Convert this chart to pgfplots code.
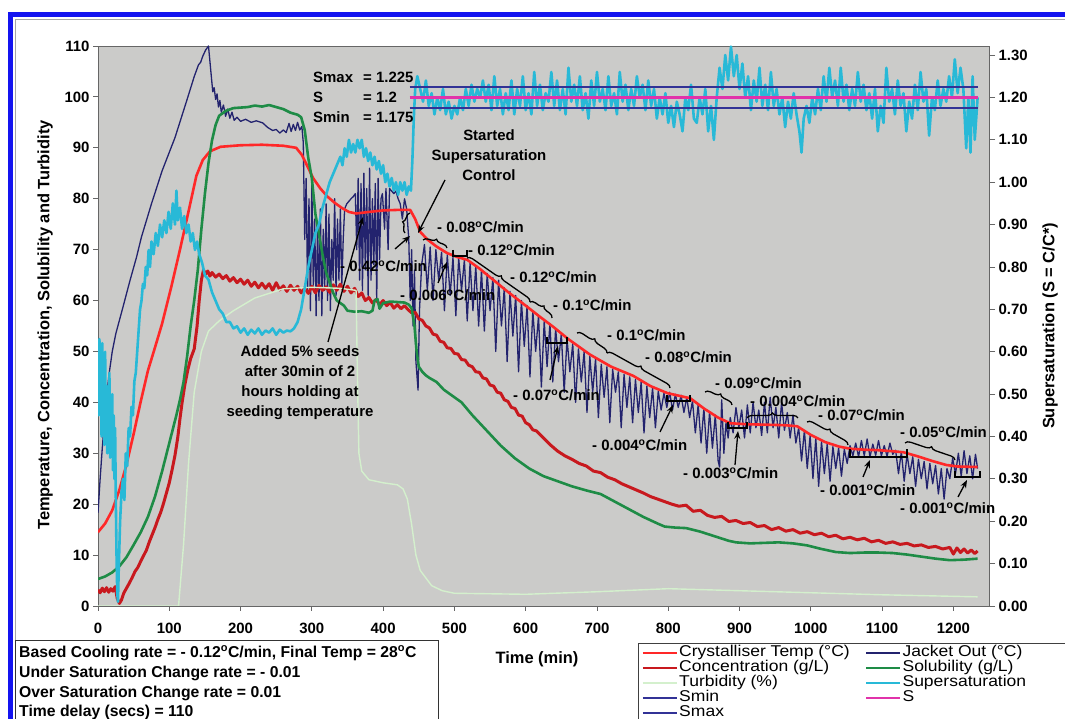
\documentclass[border=0pt]{standalone}
\usepackage{fontspec}
\setmainfont{Liberation Sans}
\newfontfamily\legfont[FakeStretch=1.12]{Liberation Sans}
\usepackage{pgfplots}
\pgfplotsset{compat=1.18}
\usetikzlibrary{decorations.pathreplacing,arrows.meta}
\definecolor{plotbg}{RGB}{203,203,201}
\definecolor{tempred}{RGB}{255,40,40}
\definecolor{concred}{RGB}{200,25,30}
\definecolor{solgreen}{RGB}{30,140,70}
\definecolor{turbgreen}{RGB}{212,240,205}
\definecolor{cyanS}{RGB}{40,185,215}
\definecolor{jacket}{RGB}{35,35,110}
\definecolor{sminblue}{RGB}{50,50,150}
\definecolor{smag}{RGB}{225,50,170}
\definecolor{frameblue}{RGB}{20,20,240}
\begin{document}
\begin{tikzpicture}[x=1bp,y=1bp]
\useasboundingbox (0,0) rectangle (1065,719);
\fill[white] (0,0) rectangle (1065,719);
\fill[frameblue] (8,702) rectangle (1065,707);
\fill[frameblue] (8,0) rectangle (13,707);
\draw[gray!70,line width=0.8bp] (15,0) -- (15,700) -- (1065,700);

\begin{axis}[
  at={(98bp,113bp)}, anchor=south west,
  scale only axis, width=891bp, height=560bp,
  xmin=0, xmax=1250, ymin=0, ymax=110,
  xtick={0,100,...,1200}, ytick={0,10,...,110},
  tick pos=left, tick align=outside,
  major tick length=5bp,
  axis background/.style={fill=plotbg},
  axis line style={gray!80!black, line width=0.8bp},
  tick style={gray!80!black, line width=0.8bp},
  /pgf/number format/assume math mode=true,
  /pgf/number format/set thousands separator={},
  ticklabel style={font=\fontsize{15}{16}\selectfont\bfseries},
  xticklabel style={yshift=-9bp},
  every axis plot/.append style={line join=round},
]
% Jacket Out
\addplot[jacket, line width=1.3bp] coordinates {
(0,18.3)(3,25)(6,31)(10,38)(15,45)(20,50)(25,53.5)(35,58.7)(45,64)(54,68.5)(61,72.5)(75,79)(90,85.5)(108,92)(125,99.5)(135,104)(141,106.3)(144,106.8)(147,108)(151,109.2)(155,110)(158,105.5)(161,101)(163,101.8)(165,99.5)(167,100.6)(169,98)(171,99.3)(173,97)(176,98.4)(179,96.2)(182,97.6)(185,95.8)(188,97)(191,95.4)(195,96)(200,95.2)(207,95.6)(215,95)(222,95.3)(231,94.9)(238,94)(245,93.4)(250,93.6)(255,92.9)(260,93.5)(264,93)(268,94.8)(271,93.2)(274,94.6)(277,93.4)(280,95)(283,93.5)(286,94.2)
(288,91)(290,72)(292,84)(294,62)(296,80)(298,58)(300,83)(302,63)(304,76)(306,57)(308,75)(310,60)(312,78)(314,57)(316,74)(318,62)(320,79)(322,60)(324,77)(326,58)(328,72)(330,64)(332,80)(334,61)(336,76)(338,64)(340,78)(342,63)(344,72)(346,78)(349,79)(352,79.5)(355,80)(358,80.4)(361,81)(363,70)(365,84)(367,64)(369,83)(371,62)(373,85)(375,66)(377,82)(379,61)(381,86)(383,64)(385,80)(387,67)(389,83)(391,60)(393,84)(395,68)(397,80)(399,81)(402,74)(404,82)(407,70)(409,82)(412,81.5)(415,81)(418,81.5)(421,80)(424,79)(427,76)(430,80)(433,78)(436,72)(438,60)(440,70)(442,55)(444,66)(446,48)(449,42.4)(451,58)
(454,67)(458,71)(462,62)(466,70.5)(470,60)(474,70)(478,64)(482,69.5)(486,58)(490,69)(494,61)(498,68.5)(502,57)(506,68.3)(510,62)(514,68)(518,56)(522,67.5)(526,58)(530,66.8)(534,55)(538,66)(542,54)(546,65.3)(550,58)(554,64.5)(558,50)(562,64)(566,55)(570,62.5)(574,48)(578,61.8)(582,53)(586,61)(590,46)(594,60)(598,51)(602,59)(606,45)(610,58)(614,50)(618,57)(622,43)(626,56)(630,47)(634,55.5)(638,44)(642,54.5)(646,48)(650,53.5)(654,42)(658,52.5)(662,46)(666,51.5)(670,40)(674,50.5)(678,44)(682,50)(686,38)(690,49)(694,42)(698,48.5)(702,37)(706,47.5)(710,41)(714,47)(718,36)(722,46.5)(726,42)(730,46)(734,35)(738,45.5)(742,39)(746,45)(750,36)(754,44.5)(758,38)(762,44)(766,34)(770,43.2)(774,37)(778,42.8)(782,35)(786,42.2)(790,38.5)(794,41.8)(798,39)(802,42)(806,38.5)(810,41.6)(814,39)(818,41.4)(822,38)(826,41)(830,37)(834,40.3)(838,34)(842,39.6)(846,32)(850,38.8)(854,30)(858,38.2)(862,31)(866,37.5)(870,28.5)(872,27.3)(875,40.5)(878,30)(881,36)(884,33)(887,37)(891,34)(895,39)(899,35)(903,38.5)(907,33)(911,39.5)(915,34)(919,40)(923,35)(927,38.5)(931,33.5)(935,40)(939,34)(943,41)(947,35)(951,39)(955,33)(959,40)(963,34.5)(967,38)(971,33)(975,37.5)(979,32)(983,35)(987,28.5)(991,34.5)(995,27)(999,33.5)(1003,25)(1007,33)(1011,23.5)(1015,32.3)(1019,26)(1023,31.8)(1027,24.5)(1031,31.3)(1035,27)(1039,31)(1043,25.5)(1047,30.8)(1051,28)(1055,31.5)(1059,29.5)(1063,32)(1067,29.3)(1071,32.5)(1075,29.5)(1079,32.8)(1083,29.3)(1087,31.8)(1091,29.6)(1095,32.5)(1099,29.5)(1103,31.5)(1107,29.4)(1111,32)(1115,29.8)(1119,30.6)(1123,26)(1127,30.3)(1131,24.5)(1135,29.8)(1139,26)(1143,29.3)(1147,23.5)(1151,28.8)(1155,25)(1159,28.4)(1163,23)(1167,28)(1171,24)(1175,27.6)(1179,22)(1183,27)(1187,21)(1191,27)(1195,25)(1199,29)(1203,26)(1207,30)(1211,25.5)(1215,30.5)(1219,26)(1223,29.5)(1227,25)(1231,29.8)(1234,27)
};
% Crystalliser Temp
\addplot[tempred, line width=2.6bp] coordinates {
(0,14.5)(10,16.2)(20,18.8)(30,22.8)(40,27.8)(50,33.8)(60,40.2)(70,46.2)(80,50.8)(90,55.5)(103,62.8)(115,70)(127,77.5)(138,84.5)(147,87.6)(157,89.3)(172,90.2)(200,90.5)(230,90.6)(260,90.4)(278,90)(286,88.6)(293,86.6)(302,84)(312,82)(322,80.4)(332,79.2)(342,78.2)(352,77.4)(362,77.1)(380,77.4)(400,77.7)(420,77.8)(438,77.8)(445,76)(452,73.5)(462,72)(475,70.6)(490,69.3)(505,68.5)(518,68)(535,66.3)(555,64)(575,61.7)(600,59)(620,56.8)(639,54.8)(660,52.4)(690,49.4)(720,47)(751,45.2)(775,43.2)(799,41.8)(815,41.3)(831,40.8)(850,38.8)(870,37)(887,35.9)(910,35.7)(940,35.6)(965,35.5)(981,35.3)(1000,33.6)(1020,32.2)(1040,31.3)(1055,30.9)(1075,30.7)(1095,30.6)(1115,30.4)(1130,30.2)(1150,29.4)(1170,28.5)(1190,27.7)(1206,27.4)(1234,27.3)
};
% Concentration
\addplot[concred, line width=3bp] coordinates {
(0,3.2)(3,2.6)(6,3.5)(9,2.8)(12,3.6)(15,2.7)(18,3.4)(21,2.9)(24,3.8)(27,1.5)(30,0.5)(33,1.2)(36,2.5)(40,3.5)(44,4.5)(48,5.6)(52,6.8)(56,7.6)(60,8.8)(64,9.9)(68,11)(72,12.6)(76,14)(80,15.4)(84,17)(88,18.4)(92,20.2)(96,22.2)(100,24.2)(104,26.8)(108,29.6)(112,33.2)(115,36.8)(118,40)(122,43.6)(126,46.4)(130,48.6)(135,50.5)(139,55)(142,60)(145,64)(148,66)(151,65.2)(154,65.8)(157,64.8)(160,65.5)(165,64.6)(170,65.2)(175,64.3)(180,64.9)(185,63.8)(190,64.5)(195,63.5)(200,64.2)(205,63.2)(210,64)(215,62.8)(220,63.6)(225,62.5)(230,63.4)(235,62.4)(240,63.3)(245,62)(250,63.5)(255,62.1)(260,62.9)(265,61.8)(270,63)(275,62)(280,62.8)(285,61.5)(290,62.5)(295,61.4)(300,62.8)(305,61.5)(310,63)(315,62)(320,62.7)(325,61.6)(330,63.1)(335,62)(340,63.2)(345,61.8)(350,62.8)(355,61.5)(360,62.4)(365,60.8)(370,61.5)(375,60)(380,60.6)(385,59.5)(390,60.2)(395,59.2)(400,60)(405,59)(410,59.6)(415,58.5)(420,59.2)(425,58.4)(430,59)(435,58.2)(440,57.6)(445,57.7)(450,56.4)(455,56.1)(460,55)(465,54.6)(470,53.4)(475,53.2)(480,52)(485,51.8)(490,50.7)(495,50.6)(500,49.6)(505,49.5)(510,48.4)(515,48.3)(520,47.3)(525,47)(530,46)(535,45.9)(540,44.8)(545,44.6)(550,43.4)(555,43.2)(560,42)(565,41.8)(570,40.5)(575,40.2)(580,39)(585,38.8)(590,37.5)(595,37.3)(600,36)(605,35.6)(610,34.6)(615,34.4)(625,33)(635,31.6)(645,30.4)(655,29.5)(665,28.8)(675,28)(685,27.5)(695,26.5)(705,26.2)(715,25.3)(725,24.8)(735,24)(745,23.4)(755,22.8)(765,22.2)(775,21.5)(785,21)(795,20.5)(805,20)(815,19.6)(825,19.8)(835,18.6)(845,18.8)(855,17.8)(865,17.4)(875,17.6)(885,16.6)(895,16.8)(905,16.2)(915,16.4)(925,15.6)(935,15.8)(945,15)(955,15.4)(965,14.7)(975,15)(985,14.3)(995,14.6)(1005,14)(1015,14.3)(1025,13.6)(1035,13.9)(1045,13.2)(1055,13.5)(1065,13)(1075,13.3)(1085,12.6)(1095,12.9)(1105,12.3)(1115,12.6)(1125,12.1)(1135,12.3)(1145,11.8)(1155,12)(1165,11.5)(1175,11.7)(1185,11.2)(1195,11.5)(1200,10.2)(1205,11.4)(1210,10.5)(1215,11.2)(1220,10.4)(1225,11)(1230,10.3)(1234,10.8)
};
% Solubility
\addplot[solgreen, line width=2.6bp] coordinates {
(0,5.3)(10,5.8)(20,6.6)(30,7.8)(40,9.6)(50,12)(60,14.5)(70,17.5)(80,21.5)(90,26.5)(100,32)(110,37.5)(115,40.5)(120,44)(125,49)(130,55)(135,60)(140,66)(145,74)(150,81)(155,87)(160,91.5)(165,94.5)(170,96.3)(180,97.3)(190,97.8)(200,97.9)(210,98)(220,98.3)(230,98.1)(240,98.4)(250,98)(260,97.6)(270,96.9)(280,96.5)(285,96)(290,93.5)(295,88)(300,84)(305,77)(310,73)(315,69)(320,65.5)(325,63.5)(330,61.5)(335,60)(340,59.5)(345,59)(350,58)(360,57.8)(370,57.9)(380,57.6)(385,58)(388,60)(392,60.3)(395,58.4)(400,59.5)(410,59.8)(420,59.7)(430,59.6)(436,59.2)(440,58.5)(444,55)(447,50)(450,47)(455,46)(460,45.3)(465,44.8)(475,44)(485,42.5)(495,41.5)(510,40)(525,37.5)(545,34.5)(565,31.5)(585,29)(605,27)(625,25.5)(645,24.5)(665,23.5)(685,22.7)(705,22)(725,20.5)(745,19)(765,17.5)(785,16.2)(795,15.6)(810,15.4)(825,15.3)(845,14.6)(865,13.7)(885,12.8)(895,12.5)(915,12.3)(935,12.4)(955,12.5)(975,12.3)(995,11.9)(1015,11.2)(1035,10.6)(1055,10.4)(1075,10.5)(1095,10.5)(1115,10.4)(1135,10.1)(1155,9.7)(1175,9.3)(1195,9.0)(1215,9.1)(1234,9.3)
};
% Turbidity
\addplot[turbgreen, line width=1.4bp] coordinates {
(0,0)(113,0)(120,12)(127,28)(135,42)(145,50)(155,54)(170,56)(190,58)(220,60.5)(260,62.3)(300,62.6)(340,62.4)(362,62)(364,45)(366,30)(370,26.5)(380,24.8)(400,24.2)(420,23.8)(428,23)(434,21)(440,16)(446,10)(452,7)(460,5.5)(468,4)(483,3)(500,2.5)(600,2.3)(700,2.8)(800,3.4)(900,3)(1000,2.6)(1100,2.2)(1234,1.8)
};
\end{axis}

\begin{axis}[
  at={(98bp,113bp)}, anchor=south west,
  scale only axis, width=891bp, height=560bp,
  xmin=0, xmax=1250, ymin=0, ymax=1.3214,
  axis y line*=right, axis x line=none,
  ytick={0,0.1,...,1.31},
  tick align=outside, major tick length=6bp,
  axis line style={gray!80!black, line width=0.8bp},
  tick style={gray!80!black, line width=0.8bp},
  /pgf/number format/assume math mode=true,
  yticklabel style={font=\fontsize{15}{16}\selectfont\bfseries,
    /pgf/number format/.cd, fixed, fixed zerofill, precision=2},
  every axis plot/.append style={line join=round},
  legend columns=2,
  legend cell align=left,
  legend style={at={(axis description cs:0.6061,-0.0661)}, anchor=north west,
    draw=black!75, fill=white, line width=0.8bp,
    font=\legfont\fontsize{15.7}{15.7}\selectfont,
    inner xsep=3bp, inner ysep=2bp, row sep=0bp,
    nodes={inner sep=1bp, text height=10.5bp, text depth=2.5bp},
    /tikz/every even column/.append style={column sep=14bp}},
  legend image code/.code={\draw[#1] (0bp,0bp) -- (34bp,0bp);},
]
\addplot[cyanS, line width=2.6bp, forget plot] coordinates {
(0,0.6)(1,0.45)(2,0.63)(3,0.5)(4,0.58)(5,0.4)(6,0.62)(7,0.45)(8,0.55)(9,0.38)(10,0.6)(11,0.42)(12,0.52)(13,0.36)(14,0.5)(15,0.4)(16,0.55)(17,0.35)(18,0.48)(19,0.38)(20,0.5)(21,0.32)(22,0.45)(23,0.3)(24,0.42)(25,0.25)(26,0.12)(27,0.03)(28,0.01)(29,0.08)(31,0.2)(33,0.27)(35,0.3)(37,0.25)(39,0.36)(41,0.33)(43,0.42)(45,0.4)(47,0.47)(49,0.45)(51,0.53)(53,0.55)(55,0.6)(57,0.65)(59,0.7)(61,0.72)(63,0.76)(65,0.75)(67,0.8)(69,0.78)(71,0.84)(73,0.8)(75,0.86)(78,0.83)(81,0.88)(84,0.85)(87,0.9)(90,0.87)(93,0.91)(96,0.88)(99,0.93)(102,0.89)(105,0.95)(108,0.9)(110,0.98)(112,0.91)(115,0.94)(118,0.89)(121,0.92)(124,0.88)(127,0.9)(130,0.86)(133,0.88)(136,0.84)(139,0.86)(142,0.83)(146,0.81)(150,0.78)(155,0.77)(160,0.74)(165,0.72)(170,0.7)(175,0.69)(180,0.67)(185,0.67)(190,0.655)(195,0.66)(200,0.645)(205,0.655)(210,0.64)(215,0.652)(220,0.643)(225,0.655)(230,0.64)(235,0.65)(240,0.645)(245,0.655)(250,0.64)(255,0.652)(260,0.645)(265,0.65)(270,0.648)(275,0.655)(280,0.67)(285,0.7)(290,0.75)(295,0.8)(300,0.84)(305,0.88)(310,0.9)(315,0.94)(320,0.97)(325,1.0)(330,1.02)(335,1.04)(340,1.06)(343,1.04)(346,1.08)(349,1.06)(352,1.1)(355,1.07)(358,1.09)(361,1.07)(364,1.1)(367,1.08)(370,1.1)(373,1.06)(376,1.08)(379,1.05)(382,1.07)(385,1.04)(388,1.06)(391,1.03)(394,1.05)(397,1.02)(400,1.04)(403,1.0)(406,1.02)(409,0.99)(412,1.01)(415,0.98)(418,1.0)(421,0.97)(424,1.0)(427,0.98)(430,1.0)(433,0.97)(436,0.99)(439,0.98)(441,1.05)(443,1.15)(445,1.22)(448,1.25)
(452,1.22)(456,1.19)(460,1.24)(464,1.18)(468,1.21)(472,1.16)(476,1.2)(480,1.17)(484,1.22)(488,1.16)(492,1.19)(496,1.15)(500,1.18)(504,1.16)(508,1.2)(512,1.17)(516,1.22)(520,1.18)(524,1.23)(528,1.19)(532,1.22)(536,1.2)(540,1.24)(544,1.19)(548,1.23)(552,1.17)(556,1.25)(560,1.18)(564,1.22)(568,1.16)(572,1.21)(576,1.17)(580,1.24)(584,1.16)(588,1.22)(592,1.18)(596,1.25)(600,1.17)(604,1.21)(608,1.16)(612,1.26)(616,1.18)(620,1.23)(624,1.17)(628,1.21)(632,1.19)(636,1.26)(640,1.18)(644,1.24)(648,1.17)(652,1.22)(656,1.16)(660,1.27)(664,1.19)(668,1.23)(672,1.18)(676,1.25)(680,1.17)(684,1.21)(688,1.15)(692,1.24)(696,1.18)(700,1.26)(704,1.19)(708,1.22)(712,1.17)(716,1.25)(720,1.18)(724,1.21)(728,1.16)(732,1.26)(736,1.19)(740,1.23)(744,1.17)(748,1.22)(752,1.18)(756,1.25)(760,1.2)(764,1.23)(768,1.17)(772,1.24)(776,1.18)(780,1.22)(784,1.15)(788,1.2)(792,1.16)(796,1.21)(800,1.14)(804,1.18)(808,1.13)(812,1.19)(816,1.16)(820,1.12)(824,1.2)(828,1.17)(832,1.23)(836,1.15)(840,1.14)(844,1.2)(848,1.16)(852,1.22)(856,1.12)(860,1.18)(864,1.1)(868,1.2)(872,1.27)(876,1.22)(880,1.3)(884,1.24)(888,1.32)(892,1.25)(896,1.3)(900,1.22)(904,1.28)(908,1.2)(912,1.25)(916,1.17)(920,1.24)(924,1.19)(928,1.27)(932,1.18)(936,1.23)(940,1.17)(944,1.26)(948,1.18)(952,1.22)(956,1.16)(960,1.2)(964,1.13)(968,1.19)(972,1.15)(976,1.21)(980,1.16)(984,1.12)(987,1.07)(990,1.15)(994,1.18)(998,1.14)(1002,1.2)(1006,1.16)(1010,1.22)(1014,1.17)(1018,1.25)(1022,1.19)(1026,1.27)(1030,1.2)(1034,1.24)(1038,1.18)(1042,1.27)(1046,1.19)(1050,1.23)(1054,1.17)(1058,1.22)(1062,1.18)(1066,1.26)(1070,1.19)(1074,1.23)(1078,1.17)(1082,1.21)(1086,1.15)(1090,1.22)(1094,1.12)(1098,1.18)(1102,1.14)(1106,1.27)(1110,1.19)(1114,1.22)(1118,1.16)(1122,1.24)(1126,1.18)(1130,1.21)(1134,1.12)(1138,1.19)(1142,1.15)(1146,1.23)(1150,1.17)(1154,1.26)(1158,1.19)(1162,1.22)(1166,1.11)(1170,1.2)(1174,1.17)(1178,1.24)(1182,1.18)(1186,1.22)(1190,1.19)(1194,1.25)(1198,1.2)(1202,1.29)(1206,1.21)(1210,1.27)(1214,1.22)(1218,1.08)(1221,1.2)(1224,1.07)(1227,1.25)(1230,1.1)(1234,1.2)
};
\addplot[sminblue, line width=2.4bp, forget plot] coordinates {(437,1.175)(1234,1.175)};
\addplot[smag, line width=2.4bp, forget plot] coordinates {(437,1.2)(1234,1.2)};
\addplot[sminblue, line width=2.4bp, forget plot] coordinates {(437,1.225)(1234,1.225)};
\addlegendimage{tempred, line width=2.8bp}
\addlegendimage{jacket, line width=1.3bp}
\addlegendimage{concred, line width=2.8bp}
\addlegendimage{solgreen, line width=2.8bp}
\addlegendimage{turbgreen, line width=2.8bp}
\addlegendimage{cyanS, line width=2.8bp}
\addlegendimage{sminblue, line width=2.8bp}
\addlegendimage{smag, line width=2.8bp}
\addlegendimage{sminblue, line width=2.8bp}
\legend{Crystalliser Temp (°C), Jacket Out (°C), Concentration (g/L), Solubility (g/L), Turbidity (\%), Supersaturation\hspace*{60bp}, Smin, S, Smax}
\end{axis}

\begin{scope}[x=1bp, y=-1bp, shift={(0bp,719bp)},
  ann/.style={font=\fontsize{15}{20}\selectfont\bfseries, inner sep=0pt},
  arr/.style={-{Stealth[length=8bp,width=6bp]}, line width=1.3bp},
  br/.style={decorate, decoration={brace, amplitude=5bp}, line width=1.3bp},
  bk/.style={line width=1.3bp}]
% axis titles
\node[ann, rotate=90, font=\fontsize{16.5}{18}\selectfont\bfseries] at (45,325) {Temperature, Concentration, Solubility and Turbidity};
\node[ann, rotate=90, font=\fontsize{16.5}{18}\selectfont\bfseries] at (1050,326) {Supersaturation (S = C/C*)};
\node[ann, font=\fontsize{16.5}{18}\selectfont\bfseries] at (537,659) {Time (min)};
% S labels
\node[ann, anchor=west] at (313,77) {Smax};
\node[ann, anchor=west] at (363,77) {= 1.225};
\node[ann, anchor=west] at (313,97) {S};
\node[ann, anchor=west] at (363,97) {= 1.2};
\node[ann, anchor=west] at (313,117) {Smin};
\node[ann, anchor=west] at (363,117) {= 1.175};
% started
\node[ann, align=center] at (489,155) {Started\\Supersaturation\\Control};
\draw[arr] (445,180) -- (418,233);
% seeds
\node[ann, align=center] at (300,383) {Added 5\% seeds\\after 30min of 2\\hours holding at\\seeding temperature};
\draw[arr] (328,342) -- (363,217);
% rate annotations
\node[ann, anchor=west] at (340,266) {- 0.42\textsuperscript{o}C/min};
\draw[arr] (395,249) -- (410,236);
\draw[br] (405,233) -- (410,213);
\node[ann, anchor=west] at (437,227) {- 0.08\textsuperscript{o}C/min};
\draw[br] (423,240) -- (447,248);
\node[ann, anchor=west] at (468,250) {- 0.12\textsuperscript{o}C/min};
\draw[bk] (453,250) -- (453,256) -- (467,256) -- (467,250);
\node[ann, anchor=west] at (400,295) {- 0.006\textsuperscript{o}C/min};
\draw[arr] (438,283) -- (447,262);
\node[ann, anchor=west] at (510,277) {- 0.12\textsuperscript{o}C/min};
\draw[br] (467,258) -- (530,302);
\node[ann, anchor=west] at (553,305) {- 0.1\textsuperscript{o}C/min};
\draw[br] (530,302) -- (552,318);
\node[ann, anchor=west] at (607,335) {- 0.1\textsuperscript{o}C/min};
\draw[br] (577,333) -- (607,353);
\node[ann, anchor=west] at (645,357) {- 0.08\textsuperscript{o}C/min};
\draw[br] (607,353) -- (670,388);
\node[ann, anchor=west] at (513,395) {- 0.07\textsuperscript{o}C/min};
\draw[bk] (547,337) -- (547,343) -- (567,343) -- (567,337);
\draw[arr] (550,380) -- (558,346);
\node[ann, anchor=west] at (592,445) {- 0.004\textsuperscript{o}C/min};
\draw[bk] (667,395) -- (667,401) -- (690,401) -- (690,395);
\draw[arr] (660,432) -- (673,405);
\node[ann, anchor=west] at (715,383) {- 0.09\textsuperscript{o}C/min};
\draw[br] (705,392) -- (732,405);
\node[ann, anchor=west] at (683,473) {- 0.003\textsuperscript{o}C/min};
\draw[bk] (728,422) -- (728,428) -- (747,428) -- (747,422);
\draw[arr] (735,465) -- (738,431);
\node[ann, anchor=west] at (750,401) {- 0.004\textsuperscript{o}C/min};
\draw[br] (747,418) -- (798,418);
\node[ann, anchor=west] at (818,415) {- 0.07\textsuperscript{o}C/min};
\draw[br] (807,422) -- (848,445);
\node[ann, anchor=west] at (820,490) {- 0.001\textsuperscript{o}C/min};
\draw[bk] (850,449) -- (850,457) -- (907,457) -- (907,449);
\draw[arr] (863,477) -- (870,460);
\node[ann, anchor=west] at (900,432) {- 0.05\textsuperscript{o}C/min};
\draw[br] (905,443) -- (955,460);
\node[ann, anchor=west] at (900,508) {- 0.001\textsuperscript{o}C/min};
\draw[bk] (955,471) -- (955,477) -- (980,477) -- (980,471);
\draw[arr] (958,497) -- (967,480);
% info box
\draw[black!80, line width=0.9bp, fill=white] (15,640) rectangle (438,730);
\node[ann, anchor=west, font=\fontsize{15.8}{20}\selectfont\bfseries] at (19,653) {Based Cooling rate = - 0.12\textsuperscript{o}C/min, Final Temp = 28\textsuperscript{o}C};
\node[ann, anchor=west, font=\fontsize{15.8}{20}\selectfont\bfseries] at (19,673) {Under Saturation Change rate = - 0.01};
\node[ann, anchor=west, font=\fontsize{15.8}{20}\selectfont\bfseries] at (19,693) {Over Saturation Change rate = 0.01};
\node[ann, anchor=west, font=\fontsize{15.8}{20}\selectfont\bfseries] at (19,712) {Time delay (secs) = 110};
\end{scope}
\end{tikzpicture}
\end{document}
